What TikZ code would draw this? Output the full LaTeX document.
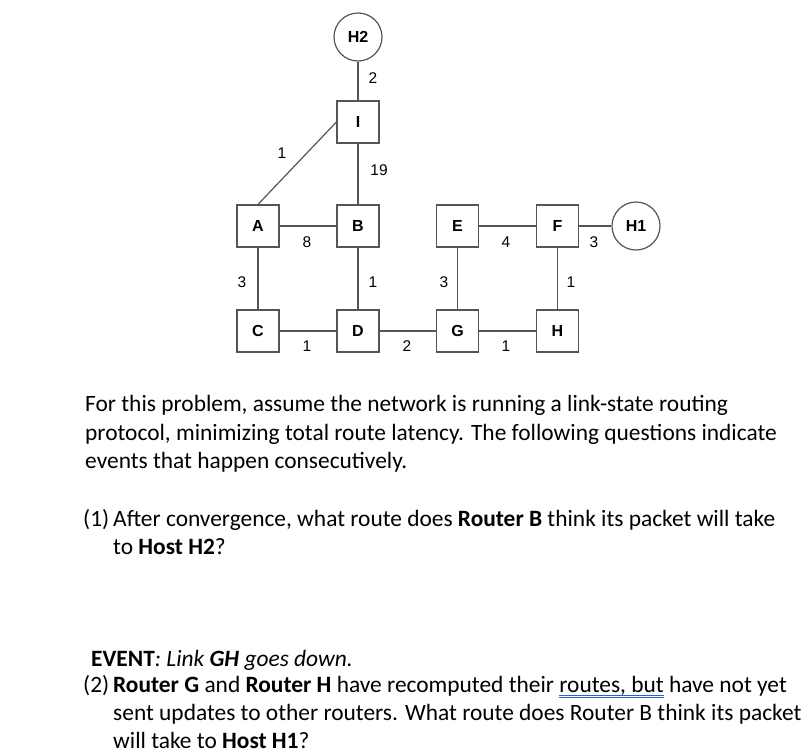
\documentclass[tikz,border=0pt]{standalone}
\usepackage{fontspec}
\setmainfont{Carlito}
\newfontfamily\arialfont{Liberation Sans}
\definecolor{linegray}{HTML}{555555}
\definecolor{ulblue}{HTML}{2F5FD0}
\newcommand\dblunder[1]{\setbox0\hbox{#1}\rlap{\textcolor{ulblue}{\rule[-3.8pt]{\wd0}{0.9pt}}}\rlap{\textcolor{ulblue}{\rule[-6.2pt]{\wd0}{0.9pt}}}\box0\relax}
\begin{document}
\begin{tikzpicture}[x=1pt,y=-1pt,
  router/.style={draw=linegray,line width=1.2pt,minimum size=42pt,inner sep=0pt,font=\arialfont\fontsize{16}{16}\selectfont\bfseries},
  hostnode/.style={draw=linegray,line width=1.2pt,circle,minimum size=48pt,inner sep=0pt,font=\arialfont\fontsize{16}{16}\selectfont\bfseries},
  link/.style={draw=linegray,line width=1.2pt},
  wlabel/.style={font=\arialfont\fontsize{15.5}{15.5}\selectfont,inner sep=0pt},
  txt/.style={anchor=base west,inner sep=0pt,font=\fontsize{23.4}{28}\selectfont}]
\useasboundingbox (0,0) rectangle (808,753);
% nodes
\node[hostnode] (H2) at (358,37) {H2};
\node[router] (I) at (358,122) {I};
\node[router] (A) at (258,226) {A};
\node[router] (B) at (358,226) {B};
\node[router] (C) at (258,331) {C};
\node[router] (D) at (358,331) {D};
\node[router] (E) at (457.5,226) {E};
\node[router] (F) at (557.5,226) {F};
\node[router] (G) at (457.5,331) {G};
\node[router] (H) at (557.5,331) {H};
\node[hostnode] (H1) at (636,226) {H1};
% links
\draw[link] (H2) -- (I);
\draw[link] (I) -- (B);
\draw[link] (A.north) -- (I.west);
\draw[link] (A) -- (B);
\draw[link] (A) -- (C);
\draw[link] (B) -- (D);
\draw[link] (C) -- (D);
\draw[link] (D) -- (G);
\draw[link] (E) -- (F);
\draw[link] (E) -- (G);
\draw[link] (F) -- (H);
\draw[link] (G) -- (H);
\draw[link] (F) -- (H1);
% weights
\node[wlabel] (w1) at (373,78) {2};
\node[wlabel] (w2) at (379,170) {19};
\node[wlabel] (w3) at (282,153) {1};
\node[wlabel] (w4) at (307,242) {8};
\node[wlabel] (w5) at (242,282) {3};
\node[wlabel] (w6) at (373,282) {1};
\node[wlabel] (w7) at (307,346) {1};
\node[wlabel] (w8) at (407,346) {2};
\node[wlabel] (w9) at (506,242) {4};
\node[wlabel] (w10) at (594,242) {3};
\node[wlabel] (w11) at (444,282) {3};
\node[wlabel] (w12) at (571,282) {1};
\node[wlabel] (w13) at (506,346) {1};
% text
\node[txt] (t1) at (85,411.5) {For this problem, assume the network is running a link-state routing};
\node[txt] (t2) at (85,440) {protocol, minimizing total route latency. The following questions indicate};
\node[txt] (t3) at (85,468) {events that happen consecutively.};
\node[txt] (q1a) at (83,526) {(1)};
\node[txt] (q1b) at (113,526) {After convergence, what route does \textbf{Router B} think its packet will take};
\node[txt] (q1c) at (113,554) {to \textbf{Host H2}?};
\node[txt] (ev) at (91,666) {\textbf{EVENT}\textit{: Link \textbf{GH} goes down.}};
\node[txt] (q2a) at (83,692) {(2)};
\node[txt] (q2b) at (113,692) {\textbf{Router G} and \textbf{Router H} have recomputed their \dblunder{routes, but} have not yet};
\node[txt] (q2c) at (113,720) {sent updates to other routers. What route does Router B think its packet};
\node[txt] (q2d) at (113,748) {will take to \textbf{Host H1}?};
\end{tikzpicture}
\end{document}
